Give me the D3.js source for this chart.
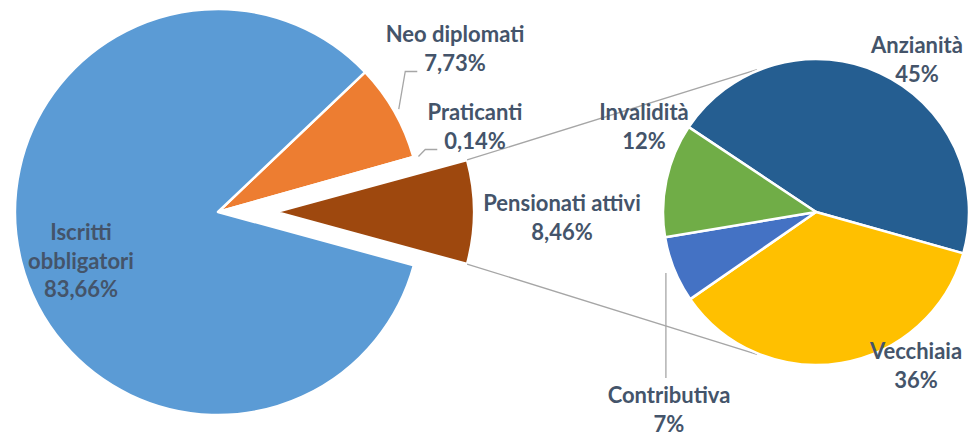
<!DOCTYPE html>
<html>
<head>
<meta charset="utf-8">
<script src="https://cdn.jsdelivr.net/npm/d3@7"></script>
<style>
  body { margin: 0; background: #fff; }
  svg text { font-family: Lato, "Open Sans", sans-serif; font-weight: 700; fill: #44546A; }
</style>
</head>
<body>
<svg id="drawing_region"></svg>
<script>
// main pie, clockwise from the first slice after 12 o'clock
const mainCategories = ["Neo diplomati", "Praticanti", "Pensionati attivi", "Iscritti obbligatori"];
const mainValues = [7.73, 0.14, 8.46, 83.66];
const mainColors = ["#ED7D31", "#A5A5A5", "#9E480E", "#5B9BD5"];
const splitCategory = "Pensionati attivi";

// secondary pie (split of "Pensionati attivi")
const subCategories = ["Anzianità", "Vecchiaia", "Contributiva", "Invalidità"];
const subValues = [45, 36, 7, 12];
const subColors = ["#255E91", "#FFC000", "#4472C4", "#70AD47"];

const config = {
    width: 971,
    height: 435,
    main: { cx: 218, cy: 212, r: 203, explode: 58, rSplit: 198 },
    sub: { cx: 816, cy: 212, r: 153, start: -56.3 },
    connectorAngles: [-22.5, 202.5],
    lineHeight: 28.5
};

// label anchors (centre x, first baseline)
const labelLayout = {
    "Neo diplomati": { x: 455, y: 42, leader: "elbow" },
    "Praticanti": { x: 475, y: 120, leader: "elbow" },
    "Pensionati attivi": { x: 562, y: 211 },
    "Iscritti obbligatori": { x: 81, y: 240, wrap: true },
    "Anzianità": { x: 917, y: 53 },
    "Vecchiaia": { x: 916, y: 359 },
    "Contributiva": { x: 669, y: 403, leader: "vertical" },
    "Invalidità": { x: 644, y: 120 }
};

const locale = d3.formatLocale({ decimal: ",", thousands: ".", grouping: [3], currency: ["", "€"] });
const fmtMain = v => locale.format(".2f")(v) + "%";
const fmtSub = v => locale.format(".0f")(v) + "%";
const rad = deg => deg * Math.PI / 180;
const polar = (cx, cy, r, a) => [cx + r * Math.sin(a), cy - r * Math.cos(a)];

const svg = d3.select("#drawing_region")
    .attr("width", config.width)
    .attr("height", config.height);

// ---- main pie
const TAU = 2 * Math.PI;
const splitIdx = mainCategories.indexOf(splitCategory);
const before = d3.sum(mainValues.slice(0, splitIdx)) + mainValues[splitIdx] / 2;
const mainStart = Math.PI / 2 - before / d3.sum(mainValues) * TAU;

const mainPie = d3.pie().sort(null).startAngle(mainStart).endAngle(mainStart + TAU);
const mainArcs = mainPie(mainValues);
const M = config.main;

const arcMain = d3.arc().innerRadius(0).outerRadius(M.r);
const arcSplit = d3.arc().innerRadius(0).outerRadius(M.rSplit);

const mainG = svg.append("g");
mainG.selectAll("path")
    .data(mainArcs)
    .join("path")
    .attr("transform", (d, i) => i === splitIdx ? `translate(${M.cx + M.explode}, ${M.cy})` : `translate(${M.cx}, ${M.cy})`)
    .attr("d", (d, i) => i === splitIdx ? arcSplit(d) : arcMain(d))
    .attr("fill", (d, i) => mainColors[i])
    .attr("stroke", "#fff")
    .attr("stroke-width", 2.5)
    .attr("stroke-linejoin", "round");

// ---- secondary pie
const S = config.sub;
const subPie = d3.pie().sort(null).startAngle(rad(S.start)).endAngle(rad(S.start) + TAU);
const subArcs = subPie(subValues);
const arcSub = d3.arc().innerRadius(0).outerRadius(S.r);

// connector lines from the split slice corners to the secondary pie
const split = mainArcs[splitIdx];
const corners = [split.startAngle, split.endAngle].map(a => polar(M.cx + M.explode, M.cy, M.rSplit, a));
const targets = config.connectorAngles.map(a => polar(S.cx, S.cy, S.r + 1, rad(a)));
svg.append("g").selectAll("line")
    .data(corners)
    .join("line")
    .attr("x1", d => d[0]).attr("y1", d => d[1])
    .attr("x2", (d, i) => targets[i][0]).attr("y2", (d, i) => targets[i][1])
    .attr("stroke", "#A6A6A6")
    .attr("stroke-width", 1.3);

const subG = svg.append("g").attr("transform", `translate(${S.cx}, ${S.cy})`);
subG.selectAll("path")
    .data(subArcs)
    .join("path")
    .attr("d", arcSub)
    .attr("fill", (d, i) => subColors[i])
    .attr("stroke", "#fff")
    .attr("stroke-width", 2.5)
    .attr("stroke-linejoin", "round");

// ---- labels
const labels = [];
mainArcs.forEach((d, i) => labels.push({
    name: mainCategories[i], value: fmtMain(mainValues[i]), arc: d,
    cx: i === splitIdx ? M.cx + M.explode : M.cx, cy: M.cy, r: i === splitIdx ? M.rSplit : M.r
}));
subArcs.forEach((d, i) => labels.push({
    name: subCategories[i], value: fmtSub(subValues[i]), arc: d, cx: S.cx, cy: S.cy, r: S.r
}));

const leaderG = svg.append("g");
const labelG = svg.append("g");
const lineGen = d3.line();

labels.forEach(l => {
    const pos = labelLayout[l.name];
    const rows = pos.wrap ? l.name.split(" ").concat([l.value]) : [l.name, l.value];
    const t = labelG.append("text")
        .attr("text-anchor", "middle")
        .style("font-size", "22px");
    const spans = rows.map((row, k) => t.append("tspan")
        .attr("x", pos.x)
        .attr("y", pos.y + k * config.lineHeight)
        .text(row));

    const mid = (l.arc.startAngle + l.arc.endAngle) / 2;
    if (pos.leader === "elbow") {
        const start = polar(l.cx, l.cy, l.r + 5, mid);
        const w = spans[1].node().getComputedTextLength();
        const endX = pos.x - w / 2 - 7;
        const endY = pos.y + config.lineHeight + 1;
        leaderG.append("path")
            .attr("d", lineGen([start, [endX - 12, endY], [endX, endY]]))
            .attr("fill", "none")
            .attr("stroke", "#A6A6A6")
            .attr("stroke-width", 1.3);
    } else if (pos.leader === "vertical") {
        const start = polar(l.cx, l.cy, l.r + 9, mid);
        leaderG.append("path")
            .attr("d", lineGen([start, [start[0], pos.y - 25]]))
            .attr("fill", "none")
            .attr("stroke", "#A6A6A6")
            .attr("stroke-width", 1.3);
    }
});
</script>
</body>
</html>
